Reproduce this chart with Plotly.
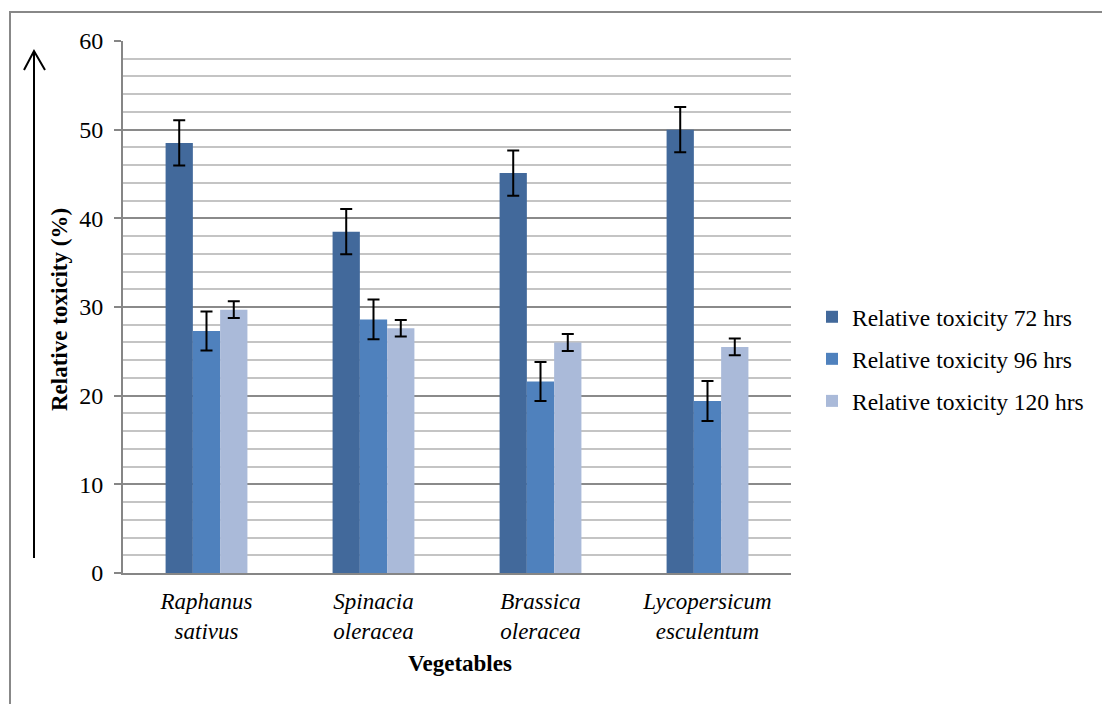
import plotly.graph_objects as go

# Vegetables tested
categories = ["Raphanus<br>sativus", "Spinacia<br>oleracea", "Brassica<br>oleracea", "Lycopersicum<br>esculentum"]
tick_labels = ["<i>" + c + "</i>" for c in categories]

# Relative toxicity (%) per exposure time, with error margins
series_names = ["Relative toxicity 72 hrs", "Relative toxicity 96 hrs", "Relative toxicity 120 hrs"]
tox_72 = [48.5, 38.5, 45.1, 50.0]
tox_96 = [27.3, 28.6, 21.6, 19.4]
tox_120 = [29.7, 27.6, 26.0, 25.5]
err_72 = [2.55, 2.55, 2.55, 2.55]
err_96 = [2.2, 2.25, 2.2, 2.25]
err_120 = [0.95, 0.93, 0.95, 0.95]

colors = ["#42699B", "#4F81BD", "#AABAD9"]
FONT = "Liberation Serif"

W, H = 1102, 704
L, R, T, B = 123, 791, 41, 573  # plot area in pixels


def px(x):
    return (x - L) / (R - L)


def py(y):
    return (B - y) / (B - T)


fig = go.Figure()
for name, vals, errs, col in zip(series_names, [tox_72, tox_96, tox_120],
                                 [err_72, err_96, err_120], colors):
    fig.add_trace(go.Bar(
        name=name, x=categories, y=vals, marker_color=col,
        marker_line_width=0, legendgroup=name,
        error_y=dict(type="data", array=errs, visible=True,
                     color="black", thickness=2, width=6),
    ))

fig.update_layout(
    width=W, height=H,
    margin=dict(l=L, r=W - R, t=T, b=H - B),
    paper_bgcolor="white", plot_bgcolor="white",
    barmode="group", bargap=0.51, bargroupgap=0,
    font=dict(family=FONT, size=23, color="black"),
    showlegend=True,
    legend=dict(
        x=px(812), y=py(295), xanchor="left", yanchor="top",
        font=dict(family=FONT, size=23.5, color="black"),
        traceorder="grouped", tracegroupgap=8.5,
        itemwidth=30, bgcolor="rgba(0,0,0,0)",
    ),
    xaxis=dict(
        tickmode="array", tickvals=categories, ticktext=tick_labels,
        tickfont=dict(family=FONT, size=23, color="black"), showline=True,
        linecolor="#868686", linewidth=2, ticks="", showgrid=False,
        ticklabelstandoff=6,
    ),
    yaxis=dict(
        range=[0, 60], tickmode="linear", tick0=0, dtick=10,
        tickfont=dict(family=FONT, size=24, color="black"),
        showline=True, linecolor="#868686", linewidth=2,
        ticks="outside", ticklen=7, tickcolor="#868686", tickwidth=2,
        ticklabelstandoff=6,
        showgrid=True, gridcolor="#8A8A8A", gridwidth=2,
        zeroline=False,
        minor=dict(dtick=2, showgrid=True, gridcolor="#C4C4C4", gridwidth=2,
                   ticks=""),
    ),
    annotations=[
        dict(text="<b>Relative toxicity (%)</b>", textangle=-90,
             x=px(59), y=py(310), xref="paper", yref="paper",
             xanchor="center", yanchor="middle",
             showarrow=False, font=dict(family=FONT, size=23)),
        dict(text="<b>Vegetables</b>",
             x=px(460), y=py(663), xref="paper", yref="paper",
             xanchor="center", yanchor="middle",
             showarrow=False, font=dict(family=FONT, size=23)),
    ],
    shapes=[
        # outer frame (left and top edges)
        dict(type="path", xref="paper", yref="paper",
             path=f"M {px(10)} {py(720)} L {px(10)} {py(12)} L {px(1120)} {py(12)}",
             line=dict(color="#888888", width=2)),
        # upward arrow beside the axis title
        dict(type="line", xref="paper", yref="paper",
             x0=px(34), y0=py(558), x1=px(34), y1=py(51),
             line=dict(color="black", width=2)),
        dict(type="path", xref="paper", yref="paper",
             path=f"M {px(24)} {py(70)} L {px(34)} {py(51)} L {px(45)} {py(70)}",
             line=dict(color="black", width=2)),
    ],
)

fig.write_html("out.html")
